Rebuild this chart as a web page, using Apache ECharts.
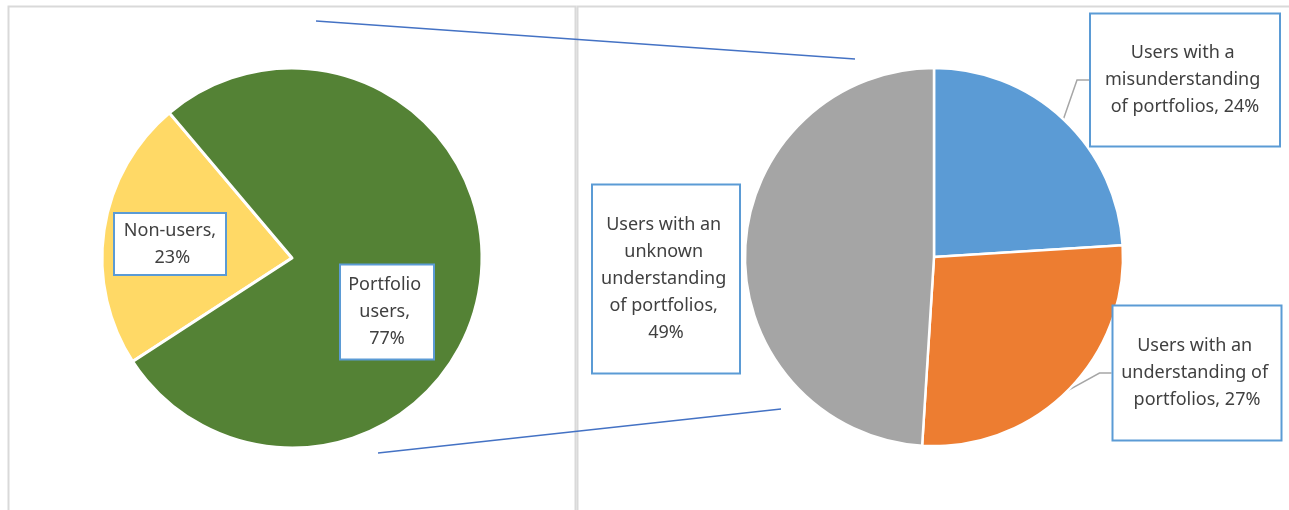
<!DOCTYPE html>
<html>
<head>
<meta charset="utf-8">
<script src="https://cdn.jsdelivr.net/npm/echarts@6/dist/echarts.min.js"></script>
<style>
  html, body { margin: 0; padding: 0; background: #fff; }
  #main { width: 1289px; height: 510px; }
</style>
</head>
<body>
<div id="main"></div>
<script>
// primary pie
const leftNames = ['Non-users', 'Portfolio users'];
const leftValues = [23, 77];
// secondary pie (breakdown of portfolio users)
const rightNames = [
  'Users with a misunderstanding of portfolios',
  'Users with an understanding of portfolios',
  'Users with an unknown understanding of portfolios'
];
const rightValues = [24, 27, 49];

const leftColors = ['#FFD966', '#548235'];
const rightColors = ['#5B9BD5', '#ED7D31', '#A5A5A5'];

// label boxes: centre, text width, padding
const leftBoxes = [
  { x: 170, y: 244, w: 96, pad: [3, 7] },
  { x: 387, y: 312, w: 80, pad: [6, 6] }
];
const rightBoxes = [
  { x: 1185, y: 80, w: 166, pad: [25, 11] },
  { x: 1197, y: 373, w: 155, pad: [26, 6] },
  { x: 666, y: 279, w: 132, pad: [26, 7] }
];

const labelBase = {
  color: '#404040',
  fontFamily: 'Noto Sans',
  fontSize: 18,
  lineHeight: 27,
  align: 'center',
  overflow: 'break',
  backgroundColor: '#fff',
  borderColor: '#5B9BD5',
  borderWidth: 2,
  formatter: '{b}, {d}%'
};

function buildData(names, values, colors, boxes, lines) {
  return names.map((n, i) => ({
    name: n,
    value: values[i],
    itemStyle: { color: colors[i] },
    label: { width: boxes[i].w, padding: boxes[i].pad },
    labelLine: { show: !!lines[i] }
  }));
}

const chart = echarts.init(document.getElementById('main'));

chart.setOption({
  animation: false,
  graphic: [
    // chart frames
    { type: 'rect', silent: true, shape: { x: 8.5, y: 6.5, width: 567, height: 600 },
      style: { fill: null, stroke: '#d9d9d9', lineWidth: 2 } },
    { type: 'rect', silent: true, shape: { x: 577.5, y: 6.5, width: 800, height: 600 },
      style: { fill: null, stroke: '#d9d9d9', lineWidth: 2 } },
    // connector lines
    { type: 'line', silent: true, shape: { x1: 316, y1: 21, x2: 855, y2: 59 },
      style: { stroke: '#4472C4', lineWidth: 1.5 } },
    { type: 'line', silent: true, shape: { x1: 378, y1: 453, x2: 781, y2: 409 },
      style: { stroke: '#4472C4', lineWidth: 1.5 } }
  ],
  series: [
    {
      type: 'pie',
      center: [292, 258],
      radius: 190,
      startAngle: 213,
      clockwise: true,
      percentPrecision: 0,
      itemStyle: { borderColor: '#fff', borderWidth: 3 },
      label: Object.assign({ position: 'inside' }, labelBase),
      labelLine: { show: false },
      labelLayout: function (p) {
        const b = leftBoxes[p.dataIndex];
        return { x: b.x, y: b.y, align: 'center', verticalAlign: 'middle' };
      },
      emphasis: { disabled: true },
      data: buildData(leftNames, leftValues, leftColors, leftBoxes, [false, false])
    },
    {
      type: 'pie',
      center: [934, 257],
      radius: 189,
      startAngle: 90,
      clockwise: true,
      percentPrecision: 0,
      avoidLabelOverlap: false,
      itemStyle: { borderColor: '#fff', borderWidth: 2.5 },
      label: Object.assign({ position: 'outside' }, labelBase),
      labelLine: {
        length: 10,
        length2: 12,
        lineStyle: { color: '#A6A6A6', width: 1.5 }
      },
      labelLayout: function (p) {
        const b = rightBoxes[p.dataIndex];
        return { x: b.x, y: b.y, align: 'center', verticalAlign: 'middle' };
      },
      emphasis: { disabled: true },
      data: buildData(rightNames, rightValues, rightColors, rightBoxes, [true, true, false])
    }
  ]
});
</script>
</body>
</html>
